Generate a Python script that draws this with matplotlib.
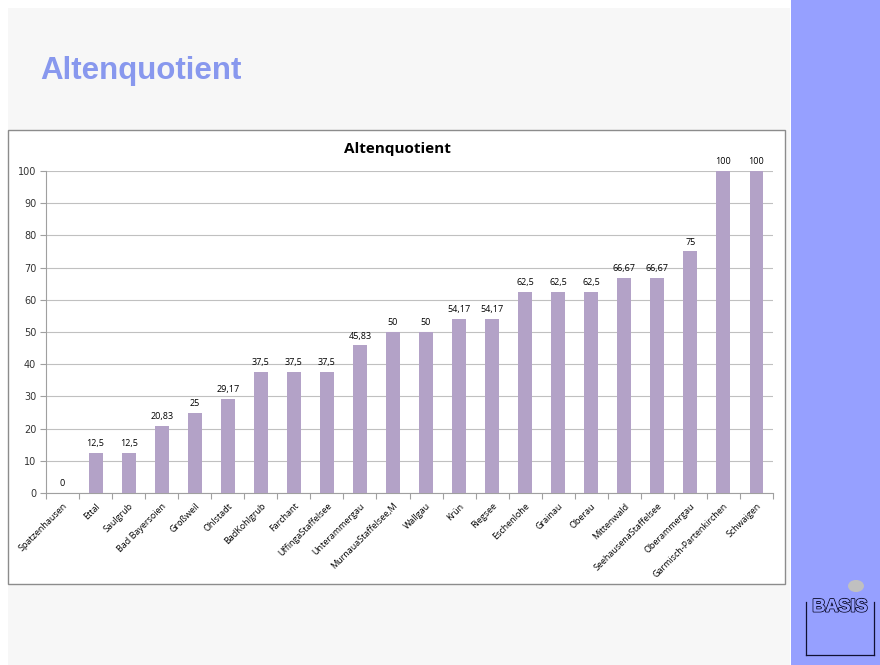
import matplotlib
matplotlib.use("Agg")
import matplotlib.pyplot as plt
from matplotlib.patches import Rectangle, Circle
import matplotlib.patheffects as pe
import numpy as np

categories = ["Spatzenhausen", "Ettal", "Saulgrub", "Bad Bayersoien", "Großweil", "Ohlstadt",
              "BadKohlgrub", "Farchant", "UffingaStaffelsee", "Unterammergau",
              "MurnauaStaffelsee,M", "Wallgau", "Krün", "Riegsee", "Eschenlohe", "Grainau",
              "Oberau", "Mittenwald", "SeehausenaStaffelsee", "Oberammergau",
              "Garmisch-Partenkirchen", "Schwaigen"]
values = [0, 12.5, 12.5, 20.83, 25, 29.17, 37.5, 37.5, 37.5, 45.83, 50, 50, 54.17, 54.17,
          62.5, 62.5, 62.5, 66.67, 66.67, 75, 100, 100]
yticks = [0, 10, 20, 30, 40, 50, 60, 70, 80, 90, 100]

W, H = 880, 665
fig = plt.figure(figsize=(W/100, H/100), dpi=100)
fig.patch.set_facecolor("white")

def fx(x): return x / W
def fy(y): return 1 - y / H

# slide background
fig.patches.append(Rectangle((fx(8), fy(665)), fx(790) - fx(8), fy(8) - fy(665),
                             transform=fig.transFigure, facecolor="#f7f7f7", edgecolor="none", zorder=0))
# right blue panel
fig.patches.append(Rectangle((fx(791), 0), 1 - fx(791), 1, transform=fig.transFigure,
                             facecolor="#96a0ff", edgecolor="none", zorder=0))
# chart box
fig.patches.append(Rectangle((fx(8), fy(584)), fx(785) - fx(8), fy(130) - fy(584),
                             transform=fig.transFigure, facecolor="white", edgecolor="#8c8c8c",
                             linewidth=1.0, zorder=1))

fig.text(fx(40), fy(71), "Altenquotient", fontsize=22.5, fontweight="bold", color="#8898ee",
         family="Liberation Sans", va="center", ha="left")

fig.text(fx(397), fy(149), "Altenquotient", fontsize=11, fontweight="bold", family="Open Sans",
         ha="center", va="center", zorder=5)

ax = fig.add_axes([fx(46), fy(493), fx(773) - fx(46), fy(171) - fy(493)])
ax.set_facecolor("white")
ax.set_zorder(2)
x = np.arange(len(categories))
ax.bar(x, values, width=0.42, color="#b3a2c7", zorder=3)
ax.set_xlim(-0.5, len(categories) - 0.5)
ax.set_ylim(0, 100)
ax.set_yticks(yticks)
ax.set_yticklabels([str(v) for v in yticks], fontsize=7, family="DejaVu Sans", color="#333333")
ax.yaxis.grid(True, color="#c0c0c0", linewidth=0.8, zorder=0)
ax.set_axisbelow(True)
for s in ["top", "right"]:
    ax.spines[s].set_visible(False)
ax.spines["left"].set_color("#a0a0a0")
ax.spines["bottom"].set_color("#a0a0a0")
ax.tick_params(axis="y", length=4, color="#a0a0a0", pad=3)
ax.set_xticks(np.arange(len(categories) + 1) - 0.5)
ax.set_xticklabels([])
ax.tick_params(axis="x", length=4, color="#a0a0a0")
ax.set_xticks(x, minor=True)
ax.set_xticklabels(categories, minor=True, rotation=45, ha="right", rotation_mode="anchor",
                   fontsize=6.5, family="Open Sans")
ax.tick_params(axis="x", which="minor", length=0, pad=6)

for xi, v in zip(x, values):
    lab = ("%g" % v).replace(".", ",")
    ax.text(xi, v + 1.5, lab, ha="center", va="bottom", fontsize=6.5, family="Open Sans")

# logo
fig.patches.append(Circle((fx(856), fy(586)), 8 / W, transform=fig.transFigure,
                          facecolor="#c0c0c0", edgecolor="none", zorder=3))
for (x0, y0, x1, y1) in [(806, 602, 806, 655), (806, 655, 874, 655), (874, 602, 874, 655)]:
    fig.add_artist(plt.Line2D([fx(x0), fx(x1)], [fy(y0), fy(y1)], transform=fig.transFigure,
                              color="#111133", linewidth=0.9, zorder=3))
fig.text(fx(840), fy(607), "BASIS", fontsize=13, color="#96a0ff", ha="center", va="center",
         family="Liberation Sans", fontweight="bold", zorder=4, stretch="condensed",
         path_effects=[pe.withStroke(linewidth=1.4, foreground="#111133"),
                       pe.Normal()])

fig.savefig("out.png", dpi=100, facecolor=fig.get_facecolor())
